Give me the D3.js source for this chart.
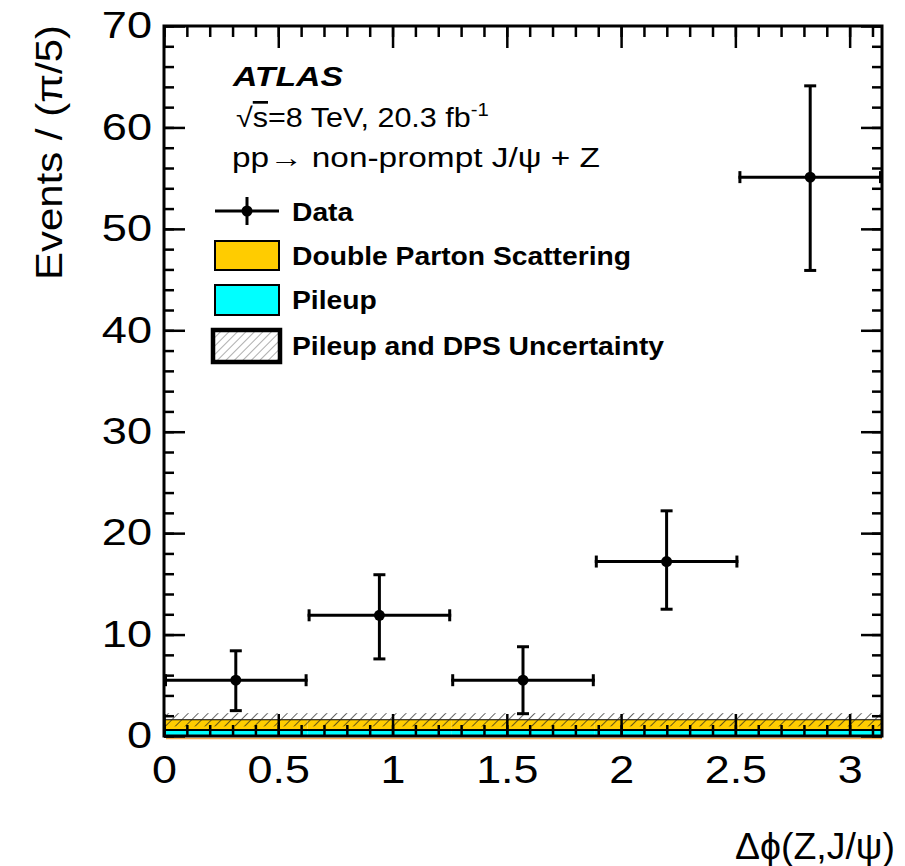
<!DOCTYPE html>
<html><head><meta charset="utf-8">
<script src="https://cdn.jsdelivr.net/npm/d3@7"></script>
<style>body{margin:0;background:#fff;} text{font-family:"Liberation Sans",Arial,sans-serif;}</style>
</head><body>
<svg id="c" width="905" height="866"></svg>
<script>
// ---- data ----
const binEdges = [0, Math.PI/5, 2*Math.PI/5, 3*Math.PI/5, 4*Math.PI/5, Math.PI];
const dataValues = [5.5, 11.9, 5.5, 17.2, 55.1];
const dataErrUp  = [2.9, 4.0, 3.3, 5.0, 9.0];
const dataErrDown= [3.0, 4.3, 3.3, 4.7, 9.2];
const pileup = [0.6, 0.6, 0.6, 0.6, 0.6];
const dps    = [1.0, 1.0, 1.0, 1.0, 1.0];
const uncert = [0.65, 0.65, 0.65, 0.65, 0.65];
const xTicks = [0, 0.5, 1, 1.5, 2, 2.5, 3];
const yTicks = [0, 10, 20, 30, 40, 50, 60, 70];
const legendLabels = ["Data", "Double Parton Scattering", "Pileup", "Pileup and DPS Uncertainty"];

const svg = d3.select("#c");
const L = 164, R = 882, T = 26, B = 736;
const x = d3.scaleLinear().domain([0, Math.PI]).range([L, R]);
const y = d3.scaleLinear().domain([0, 70]).range([B, T]);
const K = 1.18; // glyph widening to match reference rendering

function widen(sel, k){ sel.each(function(){ const w = this.getComputedTextLength();
  d3.select(this).attr("textLength", w*k).attr("lengthAdjust","spacingAndGlyphs"); }); }

const defs = svg.append("defs");
const pat = defs.append("pattern").attr("id","hatch").attr("patternUnits","userSpaceOnUse")
  .attr("width",7).attr("height",7).attr("patternTransform","rotate(45)");
pat.append("line").attr("x1",0).attr("y1",0).attr("x2",0).attr("y2",7)
  .attr("stroke","#222").attr("stroke-width",1.4);
const pat2 = defs.append("pattern").attr("id","hatch2").attr("patternUnits","userSpaceOnUse")
  .attr("width",6).attr("height",6).attr("patternTransform","rotate(45)");
pat2.append("line").attr("x1",0).attr("y1",0).attr("x2",0).attr("y2",6)
  .attr("stroke","#777").attr("stroke-width",1.2);

const bins = dataValues.map((v,i)=>({x0:binEdges[i], x1:binEdges[i+1], v, up:dataErrUp[i], dn:dataErrDown[i],
  pu:pileup[i], dps:dps[i], unc:uncert[i]}));

// orange artifact line under the frame
svg.append("line").attr("x1",L+2).attr("x2",R).attr("y1",B+2.5).attr("y2",B+2.5)
  .attr("stroke","#f5a94a").attr("stroke-width",1.5);

// stacked histograms
const g = svg.append("g");
g.selectAll("rect.pu").data(bins).join("rect")
  .attr("x",d=>x(d.x0)).attr("width",d=>x(d.x1)-x(d.x0))
  .attr("y",d=>y(d.pu)).attr("height",d=>y(0)-y(d.pu)).attr("fill","#00ffff");
g.selectAll("rect.dps").data(bins).join("rect")
  .attr("x",d=>x(d.x0)).attr("width",d=>x(d.x1)-x(d.x0))
  .attr("y",d=>y(d.pu+d.dps)).attr("height",d=>y(d.pu)-y(d.pu+d.dps)).attr("fill","#ffcc00");
const pathH = (f)=>{ let p = "M"+x(bins[0].x0)+","+y(f(bins[0]));
  bins.forEach(d=>{ p += "L"+x(d.x0)+","+y(f(d))+"L"+x(d.x1)+","+y(f(d)); }); return p; };
g.append("path").attr("d",pathH(d=>d.pu)).attr("fill","none").attr("stroke","#000").attr("stroke-width",2);
g.append("path").attr("d",pathH(d=>d.pu+d.dps)).attr("fill","none").attr("stroke","#000").attr("stroke-width",1.2);
g.selectAll("rect.unc").data(bins).join("rect")
  .attr("x",d=>x(d.x0)).attr("width",d=>x(d.x1)-x(d.x0))
  .attr("y",d=>y(d.pu+d.dps+d.unc)).attr("height",d=>y(d.pu+d.dps-d.unc)-y(d.pu+d.dps+d.unc))
  .attr("fill","url(#hatch)");

// data points
const dg = svg.append("g").attr("stroke","#000").attr("stroke-width",3);
const cap = 6;
bins.forEach(d=>{
  const cx = x((d.x0+d.x1)/2), cy = y(d.v);
  dg.append("line").attr("x1",x(d.x0)).attr("x2",x(d.x1)).attr("y1",cy).attr("y2",cy);
  dg.append("line").attr("x1",cx).attr("x2",cx).attr("y1",y(d.v+d.up)).attr("y2",y(d.v-d.dn));
  dg.append("line").attr("x1",cx-cap).attr("x2",cx+cap).attr("y1",y(d.v+d.up)).attr("y2",y(d.v+d.up));
  dg.append("line").attr("x1",cx-cap).attr("x2",cx+cap).attr("y1",y(d.v-d.dn)).attr("y2",y(d.v-d.dn));
  dg.append("line").attr("x1",x(d.x0)+1.5).attr("x2",x(d.x0)+1.5).attr("y1",cy-cap).attr("y2",cy+cap);
  dg.append("line").attr("x1",x(d.x1)-1.5).attr("x2",x(d.x1)-1.5).attr("y1",cy-cap).attr("y2",cy+cap);
  svg.append("circle").attr("cx",cx).attr("cy",cy).attr("r",5.5).attr("fill","#000");
});

// axes
function styleAxis(sel){ sel.select(".domain").remove(); sel.selectAll("line").attr("stroke","#000").attr("stroke-width",2.5); }
const xMinor = d3.range(0, 3.15, 0.1);
const yMinor = d3.range(0, 70.1, 2);
svg.append("g").attr("transform",`translate(0,${B})`)
  .call(d3.axisBottom(x).tickValues(xMinor).tickSize(-11).tickFormat("")).call(styleAxis);
svg.append("g").attr("transform",`translate(0,${B})`)
  .call(d3.axisBottom(x).tickValues(xTicks).tickSizeInner(-22).tickSizeOuter(0).tickPadding(20).tickFormat(d3.format("")))
  .call(styleAxis).call(s=>s.selectAll("text").attr("font-size",38).attr("fill","#000").attr("dy","0.71em").call(widen,K));
svg.append("g").attr("transform",`translate(0,${T})`)
  .call(d3.axisTop(x).tickValues(xMinor).tickSize(-11).tickFormat("")).call(styleAxis);
svg.append("g").attr("transform",`translate(0,${T})`)
  .call(d3.axisTop(x).tickValues(xTicks).tickSize(-22).tickFormat("")).call(styleAxis);
svg.append("g").attr("transform",`translate(${L},0)`)
  .call(d3.axisLeft(y).tickValues(yMinor).tickSize(-10).tickFormat("")).call(styleAxis);
svg.append("g").attr("transform",`translate(${L},0)`)
  .call(d3.axisLeft(y).tickValues(yTicks).tickSizeInner(-21).tickSizeOuter(0).tickPadding(12).tickFormat(d3.format("")))
  .call(styleAxis).call(s=>s.selectAll("text").attr("font-size",37).attr("fill","#000").call(widen,K+0.04));
svg.append("g").attr("transform",`translate(${R},0)`)
  .call(d3.axisRight(y).tickValues(yMinor).tickSize(-10).tickFormat("")).call(styleAxis);
svg.append("g").attr("transform",`translate(${R},0)`)
  .call(d3.axisRight(y).tickValues(yTicks).tickSize(-21).tickFormat("")).call(styleAxis);
svg.append("rect").attr("x",L).attr("y",T).attr("width",R-L).attr("height",B-T)
  .attr("fill","none").attr("stroke","#000").attr("stroke-width",3);

// axis titles
svg.append("text").attr("transform",`translate(62,${T-1}) rotate(-90)`).attr("text-anchor","end")
  .attr("font-size",37).attr("fill","#000").text("Events / (π/5)").attr("textLength",255).attr("lengthAdjust","spacingAndGlyphs");
svg.append("text").attr("x",895).attr("y",859).attr("text-anchor","end")
  .attr("font-size",37).attr("fill","#000").text("Δϕ(Z,J/ψ)").attr("textLength",160).attr("lengthAdjust","spacingAndGlyphs");

// labels
svg.append("text").attr("x",233).attr("y",86).attr("font-size",28).attr("font-weight","bold")
  .attr("font-style","italic").text("ATLAS").attr("textLength",110).attr("lengthAdjust","spacingAndGlyphs");
const t2 = svg.append("text").attr("x",236).attr("y",127).attr("font-size",27);
t2.append("tspan").text("√");
t2.append("tspan").attr("text-decoration","overline").text("s");
t2.append("tspan").text("=8 TeV, 20.3 fb");
t2.append("tspan").attr("font-size",18).attr("dy",-11).text("-1");
t2.call(widen,1.13);
svg.append("text").attr("x",232).attr("y",167).attr("font-size",27).text("pp→ non-prompt J/ψ + Z")
  .attr("textLength",368).attr("lengthAdjust","spacingAndGlyphs");

// legend
const lx0 = 215, lx1 = 279, tx = 292;
const lg = svg.append("g");
lg.append("line").attr("x1",lx0).attr("x2",lx1).attr("y1",211).attr("y2",211).attr("stroke","#000").attr("stroke-width",3);
lg.append("line").attr("x1",247).attr("x2",247).attr("y1",197).attr("y2",225).attr("stroke","#000").attr("stroke-width",3);
lg.append("circle").attr("cx",247).attr("cy",211).attr("r",5.5).attr("fill","#000");
lg.append("rect").attr("x",lx0).attr("y",241).attr("width",lx1-lx0).attr("height",29).attr("fill","#ffcc00").attr("stroke","#000").attr("stroke-width",2);
lg.append("rect").attr("x",lx0).attr("y",285).attr("width",lx1-lx0).attr("height",30).attr("fill","#00ffff").attr("stroke","#000").attr("stroke-width",2);
lg.append("rect").attr("x",213).attr("y",330).attr("width",67).attr("height",32).attr("fill","url(#hatch2)").attr("stroke","#000").attr("stroke-width",4.5);
const ly = [221, 265, 309, 355];
legendLabels.forEach((s,i)=>lg.append("text").attr("x",tx).attr("y",ly[i]).attr("font-size",25)
  .attr("font-weight","bold").text(s).call(widen,1.13));
</script>
</body></html>
